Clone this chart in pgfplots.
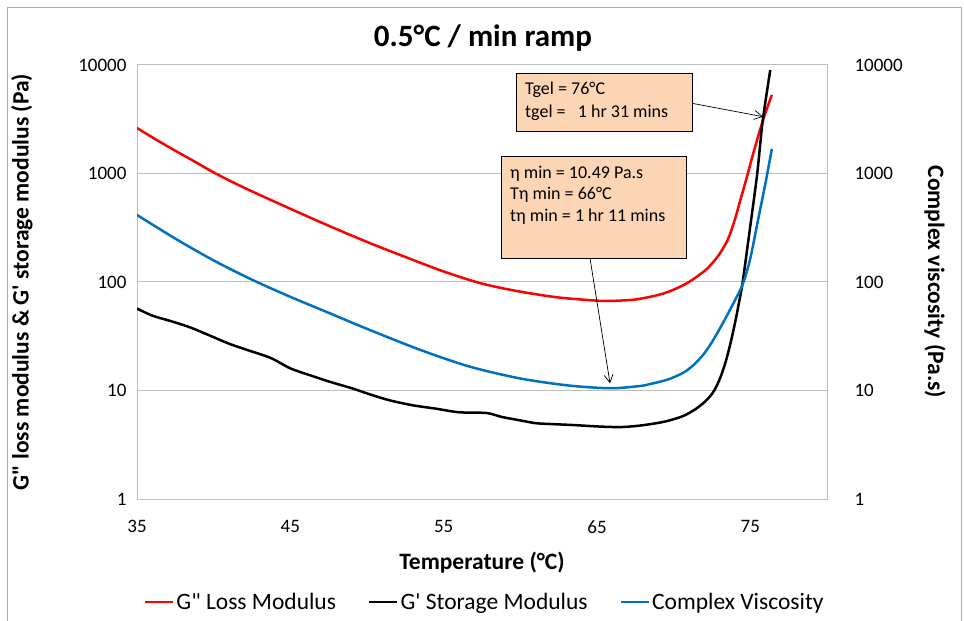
\documentclass[border=0pt]{standalone}
\usepackage{pgfplots}
\pgfplotsset{compat=1.18}
\usepackage{fontspec}
\setmainfont{Carlito}[Ligatures=TeXOff]
\usetikzlibrary{arrows.meta}

\definecolor{gridgray}{RGB}{190,190,190}
\definecolor{framegray}{RGB}{170,170,170}
\definecolor{peach}{RGB}{252,213,180}
\definecolor{xlblue}{RGB}{0,112,192}

% G'' loss modulus (Pa)
\pgfplotstableread{
T G2
35 2625
36.25 2050
37.5 1620
38.75 1290
40 1023
41.25 830
42.5 684
45 473
47.5 330
50 234
52.5 170
55 125
57.5 96.6
60 81.5
62.5 72
65 67.3
66 67
67.5 69
69 76
70 85
71 100
72 126
72.5 148
73 182
73.5 240
73.7 282
74 380
74.3 537
74.8 955
75.2 1550
75.8 3020
76.4 5300
}\lossdata

% G' storage modulus (Pa)
\pgfplotstableread{
T G1
35 57
36 49
37.35 43
38.5 38
40 31
41 27
42.2 23.6
43.7 20
45 16
46.3 13.8
47.6 12
49 10.5
50.2 9.2
51.5 8.1
53 7.3
54.5 6.8
56 6.3
57.8 6.2
58.8 5.7
60 5.3
61 5.0
62.1 4.9
63.5 4.8
65.2 4.65
66.5 4.6
67.5 4.7
68.5 4.9
69.5 5.2
70.6 5.8
71.4 6.7
72 7.8
72.5 9.3
72.8 11
73.1 13.8
73.4 18.6
73.7 27
74 42
74.3 69
74.5 100
75 330
75.45 1000
75.8 3000
76.3 9000
}\storagedata

% complex viscosity (Pa.s)
\pgfplotstableread{
T eta
35 415
37.5 251
40 158
42.5 105
45 73
47.5 52
50 37
53.5 23.6
56.7 16.6
60 12.9
63.2 11.1
65.9 10.49
67.8 11
68.5 11.5
69.6 12.6
70.6 14.5
71.3 17.2
72 22
72.6 29.5
73.2 41.6
73.8 60
74.5 95
75 166
75.5 372
76 832
76.4 1680
}\viscdata

\begin{document}
\begin{tikzpicture}
\useasboundingbox (0bp,0bp) rectangle (964bp,621bp);
\draw[framegray, line width=1bp] (7bp,-5bp) -- (7bp,613bp) -- (961bp,613bp) -- (961bp,-5bp);

\begin{axis}[
    at={(137bp,122bp)}, anchor=south west,
    scale only axis, width=690bp, height=434bp,
    xmin=35, xmax=80,
    ymode=log, ymin=1, ymax=10000,
    xtick={35,45,55,65,75},
    ytick={1,10,100,1000,10000},
    yticklabels={1,10,100,1000,10000},
    minor ytick={},
    ymajorgrids=true,
    grid style={gridgray, line width=1bp},
    axis line style={gridgray, line width=1bp},
    major tick length=0pt, minor tick length=0pt,
    /pgf/number format/assume math mode=true,
    tick label style={font=\fontsize{19bp}{22bp}\selectfont},
    yticklabel style={xshift=-7bp},
    xticklabel style={yshift=-18bp},
    xlabel={Temperature (°C)},
    ylabel={G" loss modulus \& G' storage modulus (Pa)},
    xlabel style={at={(axis description cs:0.5,-0.1475)}, anchor=center,
        font=\fontsize{23.5bp}{26bp}\selectfont\bfseries},
    ylabel style={at={(axis description cs:-0.1667,0.5)}, anchor=center, rotate=0,
        font=\fontsize{23.5bp}{26bp}\selectfont\bfseries},
    legend columns=3,
    legend style={at={(axis description cs:0.504,-0.237)}, anchor=center,
        draw=none, fill=none, font=\fontsize{23.5bp}{26bp}\selectfont,
        /tikz/every even column/.append style={column sep=30bp}},
    legend image code/.code={\draw[#1] (0bp,0bp) -- (28bp,0bp);},
]
\addplot[red, line width=2.5bp, smooth] table[x=T, y=G2] {\lossdata};
\addlegendentry{G" Loss Modulus}
\addplot[black, line width=2.5bp, smooth] table[x=T, y=G1] {\storagedata};
\addlegendentry{G' Storage Modulus}
\addplot[xlblue, line width=2.5bp, smooth] table[x=T, y=eta] {\viscdata};
\addlegendentry{Complex Viscosity}
\end{axis}

\begin{axis}[
    at={(137bp,122bp)}, anchor=south west,
    scale only axis, width=690bp, height=434bp,
    xmin=35, xmax=80,
    ymode=log, ymin=1, ymax=10000,
    hide x axis,
    axis y line*=right,
    ytick={1,10,100,1000,10000},
    yticklabels={1,10,100,1000,10000},
    minor ytick={},
    axis line style={gridgray, line width=1bp},
    major tick length=0pt, minor tick length=0pt,
    tick label style={font=\fontsize{19bp}{22bp}\selectfont},
    yticklabel style={xshift=24bp},
    ylabel={Complex viscosity (Pa.s)},
    ylabel style={at={(axis description cs:1.1565,0.5)}, anchor=center, rotate=180,
        font=\fontsize{23.5bp}{26bp}\selectfont\bfseries},
]
\end{axis}

% title
\node[font=\fontsize{31bp}{34bp}\selectfont\bfseries] at (483bp,583bp) {0.5°C / min ramp};

% gel point note
\draw[black, line width=0.8bp, fill=peach] (516bp,490bp) rectangle (692bp,548bp);
\begin{scope}[every node/.style={anchor=base west, inner sep=0pt, font=\fontsize{18bp}{21bp}\selectfont}]
\node at (525bp,526bp) {Tgel = 76°C};
\node at (525bp,503.7bp) {tgel =\ \ \ 1 hr 31 mins};
\end{scope}
\draw[black, line width=0.7bp, -{Straight Barb[length=8bp,width=9bp]}] (692bp,517.7bp) -- (763bp,504.3bp);

% viscosity minimum note
\draw[black, line width=0.8bp, fill=peach] (501bp,363bp) rectangle (686bp,465bp);
\begin{scope}[every node/.style={anchor=base west, inner sep=0pt, font=\fontsize{18bp}{21bp}\selectfont}]
\node at (510bp,442.7bp) {η min = 10.49 Pa.s};
\node at (510bp,421bp) {Tη min = 66°C};
\node at (510bp,399bp) {tη min = 1 hr 11 mins};
\end{scope}
\draw[black, line width=0.7bp, -{Straight Barb[length=8bp,width=9bp]}] (590bp,362.7bp) -- (610bp,237.7bp);
\end{tikzpicture}
\end{document}
